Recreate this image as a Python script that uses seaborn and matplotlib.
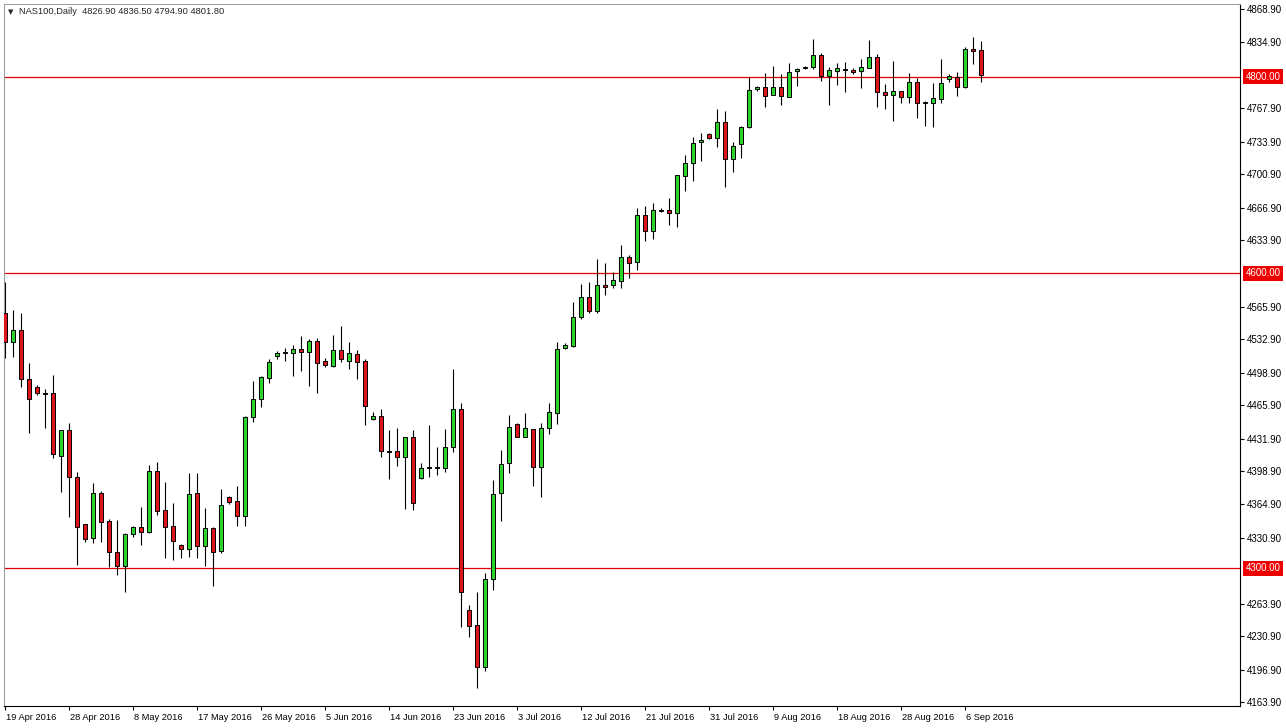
import numpy as np
import matplotlib
matplotlib.use("Agg")
import matplotlib.pyplot as plt
import matplotlib.transforms as mtransforms
import seaborn as sns

# NAS100 daily bars, 19 Apr 2016 - 8 Sep 2016 (Sun-Fri sessions)
opens = [
    4559.6, 4530.1, 4542.4, 4492.5, 4484.4, 4477.8, 4478.3, 4414.2, 4440.6, 4392.8,
    4345.0, 4330.8, 4376.5, 4348.0, 4316.5, 4302.3, 4334.8, 4341.9, 4336.9, 4398.9,
    4359.2, 4343.0, 4323.6, 4319.6, 4376.5, 4322.6, 4340.9, 4317.5, 4372.5, 4368.4,
    4353.1, 4453.8, 4472.2, 4493.5, 4515.9, 4519.5, 4519.0, 4523.0, 4520.0, 4531.2,
    4510.8, 4505.7, 4522.0, 4510.8, 4517.9, 4510.8, 4451.8, 4454.9, 4419.3, 4419.3,
    4413.2, 4433.5, 4391.8, 4402.5, 4402.0, 4402.0, 4423.3, 4462.0, 4257.5, 4242.3,
    4199.5, 4289.0, 4376.5, 4407.1, 4446.7, 4433.5, 4441.6, 4403.0, 4442.7, 4457.9,
    4524.0, 4526.1, 4555.6, 4575.9, 4561.7, 4588.1, 4588.1, 4592.2, 4616.6, 4611.5,
    4659.3, 4643.1, 4664.4, 4664.4, 4661.4, 4699.0, 4712.2, 4733.6, 4741.7, 4737.7,
    4754.0, 4716.3, 4731.6, 4748.9, 4787.5, 4789.6, 4781.4, 4789.6, 4779.4, 4805.8,
    4808.5, 4809.9, 4822.1, 4800.8, 4805.8, 4807.9, 4806.8, 4805.8, 4808.9, 4820.1,
    4784.5, 4781.4, 4785.5, 4779.4, 4794.6, 4774.3, 4773.3, 4777.4, 4797.7, 4799.7,
    4789.6, 4828.2, 4826.9]
highs = [
    4591.2, 4562.7, 4559.6, 4508.8, 4486.4, 4482.3, 4496.6, 4440.6, 4447.7, 4397.9,
    4345.5, 4386.7, 4378.6, 4350.1, 4349.0, 4335.5, 4343.0, 4362.3, 4405.0, 4408.1,
    4387.7, 4366.4, 4324.7, 4396.9, 4396.9, 4361.3, 4341.9, 4380.6, 4373.0, 4383.7,
    4454.9, 4490.5, 4495.6, 4512.9, 4521.0, 4524.0, 4527.1, 4536.3, 4533.2, 4534.2,
    4513.9, 4537.3, 4546.4, 4530.1, 4522.0, 4512.9, 4458.9, 4462.0, 4440.6, 4442.7,
    4434.0, 4440.6, 4407.1, 4445.7, 4423.3, 4441.6, 4502.7, 4468.1, 4262.6, 4275.8,
    4295.2, 4389.8, 4420.3, 4455.9, 4447.7, 4457.9, 4442.0, 4447.7, 4468.1, 4530.1,
    4529.1, 4570.8, 4589.2, 4591.2, 4614.6, 4610.5, 4601.4, 4628.8, 4618.7, 4666.5,
    4668.5, 4671.6, 4666.5, 4676.6, 4700.5, 4720.4, 4738.7, 4742.8, 4742.8, 4767.2,
    4765.1, 4733.6, 4749.9, 4799.7, 4790.6, 4803.8, 4810.9, 4802.8, 4814.0, 4808.9,
    4810.9, 4838.4, 4824.1, 4809.9, 4814.0, 4815.0, 4808.9, 4818.0, 4837.4, 4823.1,
    4792.6, 4816.0, 4786.0, 4803.8, 4798.7, 4775.3, 4793.6, 4818.0, 4802.8, 4804.8,
    4830.3, 4840.4, 4836.5]
lows = [
    4513.9, 4514.9, 4484.4, 4437.6, 4476.2, 4442.7, 4412.1, 4377.6, 4352.1, 4303.3,
    4326.7, 4325.7, 4326.7, 4301.3, 4293.1, 4275.8, 4331.8, 4323.6, 4335.8, 4354.2,
    4310.4, 4308.4, 4310.4, 4311.4, 4310.4, 4302.3, 4281.9, 4315.5, 4365.3, 4343.0,
    4343.0, 4448.8, 4464.0, 4488.4, 4512.9, 4510.8, 4495.6, 4500.6, 4485.4, 4478.3,
    4504.7, 4505.0, 4509.8, 4502.7, 4492.5, 4445.7, 4450.8, 4413.2, 4390.8, 4404.0,
    4360.3, 4359.2, 4390.8, 4392.8, 4394.8, 4397.9, 4418.2, 4240.2, 4230.0, 4178.2,
    4195.5, 4277.9, 4348.0, 4396.9, 4433.0, 4433.0, 4383.7, 4372.5, 4436.6, 4446.7,
    4523.0, 4525.5, 4553.5, 4559.6, 4559.6, 4578.0, 4585.5, 4585.5, 4595.3, 4603.4,
    4632.9, 4634.9, 4662.4, 4649.2, 4647.1, 4683.8, 4693.9, 4714.3, 4736.7, 4728.5,
    4687.8, 4703.1, 4717.3, 4748.0, 4785.5, 4769.2, 4781.0, 4771.2, 4779.0, 4790.6,
    4807.5, 4807.9, 4795.7, 4771.2, 4791.6, 4784.5, 4802.8, 4788.5, 4808.5, 4769.2,
    4767.2, 4755.0, 4773.3, 4773.3, 4758.0, 4749.9, 4748.9, 4773.3, 4794.6, 4780.4,
    4789.0, 4813.0, 4794.9]
closes = [
    4530.1, 4542.4, 4492.5, 4472.2, 4478.3, 4477.2, 4416.2, 4440.6, 4392.8, 4341.9,
    4329.7, 4376.5, 4347.0, 4316.5, 4302.3, 4334.8, 4341.9, 4336.9, 4398.9, 4358.2,
    4341.9, 4327.7, 4319.6, 4375.5, 4322.6, 4340.9, 4316.5, 4364.3, 4367.4, 4353.1,
    4453.8, 4472.2, 4494.5, 4509.8, 4519.0, 4519.0, 4523.0, 4520.0, 4531.2, 4508.8,
    4506.8, 4522.0, 4512.9, 4519.0, 4509.8, 4465.0, 4454.9, 4419.3, 4418.2, 4413.2,
    4433.5, 4366.4, 4402.0, 4402.0, 4402.6, 4423.3, 4462.0, 4275.8, 4241.2, 4199.5,
    4289.0, 4375.5, 4406.0, 4443.7, 4433.5, 4442.7, 4403.0, 4442.7, 4458.9, 4523.0,
    4527.1, 4555.6, 4575.9, 4561.7, 4588.1, 4586.1, 4593.2, 4616.6, 4610.5, 4659.3,
    4643.1, 4664.4, 4663.9, 4661.4, 4700.0, 4712.2, 4732.6, 4735.6, 4737.7, 4754.0,
    4716.3, 4729.5, 4748.9, 4786.5, 4789.6, 4780.4, 4789.6, 4780.4, 4804.8, 4807.9,
    4809.5, 4822.1, 4800.8, 4806.8, 4808.9, 4806.8, 4804.8, 4809.9, 4820.1, 4784.5,
    4781.4, 4785.5, 4779.4, 4794.6, 4773.3, 4773.3, 4778.4, 4793.6, 4800.8, 4789.6,
    4828.2, 4826.2, 4801.8]

date_labels = ["19 Apr 2016", "28 Apr 2016", "8 May 2016", "17 May 2016", "26 May 2016",
               "5 Jun 2016", "14 Jun 2016", "23 Jun 2016", "3 Jul 2016", "12 Jul 2016",
               "21 Jul 2016", "31 Jul 2016", "9 Aug 2016", "18 Aug 2016", "28 Aug 2016",
               "6 Sep 2016"]
price_ticks = [4868.90, 4834.90, 4767.90, 4733.90, 4700.90, 4666.90, 4633.90, 4565.90,
               4532.90, 4498.90, 4465.90, 4431.90, 4398.90, 4364.90, 4330.90, 4263.90,
               4230.90, 4196.90, 4163.90]
levels = [4800.00, 4600.00, 4300.00]
header = "NAS100,Daily  4826.90 4836.50 4794.90 4801.80"

sns.set_style("white")
plt.rcParams["font.family"] = ["Liberation Sans", "DejaVu Sans"]

o = np.array(opens)
c = np.array(closes)
x = np.arange(len(opens))
colors = np.where(c >= o, "#2ad42a", "#e0141b")

fig = plt.figure(figsize=(12.86, 7.28), dpi=100)
ax = fig.add_axes([4 / 1286, 22 / 728, 1236 / 1286, 702 / 728])

# wicks and bodies
ax.vlines(x, lows, highs, color="black", linewidth=0.8, zorder=2)
ax.bar(x, c - o, bottom=o, width=0.6, color=colors, edgecolor="black",
       linewidth=0.7, zorder=3)

# horizontal levels
for lv in levels:
    ax.axhline(lv, color="#e00000", linewidth=0.9, zorder=1)

ax.set_xlim(-0.125, 154.375)
ax.set_ylim(4159.85, 4874.0)

# price scale on the right
ax.yaxis.tick_right()
ax.set_yticks(price_ticks)
ax.set_yticklabels([f"{t:.2f}" for t in price_ticks])
ax.tick_params(axis="y", direction="out", length=3, width=0.8, pad=2,
               labelsize=7, colors="black", right=True, left=False)

trans = mtransforms.blended_transform_factory(ax.transAxes, ax.transData)
for lv in levels:
    ax.text(1.0, lv, f"{lv:.2f}", transform=trans + mtransforms.ScaledTranslation(4 / 72, 0, fig.dpi_scale_trans),
            ha="left", va="center", fontsize=7, color="white", clip_on=False,
            bbox=dict(boxstyle="square,pad=0.25", fc="#ee0000", ec="none"))

# date scale
ax.set_xticks(x[::8][:len(date_labels)])
ax.set_xticklabels(date_labels)
ax.tick_params(axis="x", direction="out", length=3, width=0.8, pad=2,
               labelsize=6.7, colors="black", bottom=True)
for lab in ax.get_xticklabels():
    lab.set_horizontalalignment("left")
    lab.set_transform(lab.get_transform() + mtransforms.ScaledTranslation(0.5 / 72, 0, fig.dpi_scale_trans))

for side in ["left", "top"]:
    ax.spines[side].set_color("#a0a0a0")
    ax.spines[side].set_linewidth(0.8)
for side in ["right", "bottom"]:
    ax.spines[side].set_color("black")
    ax.spines[side].set_linewidth(0.8)

ax.text(4 / 1236, 1 - 8 / 702, "\u25bc", transform=ax.transAxes, fontsize=5,
        ha="left", va="center", family=["DejaVu Sans"])
ax.text(15 / 1236, 1 - 8 / 702, header, transform=ax.transAxes, fontsize=6.7,
        ha="left", va="center")

fig.savefig("out.png", dpi=100, facecolor="white")
